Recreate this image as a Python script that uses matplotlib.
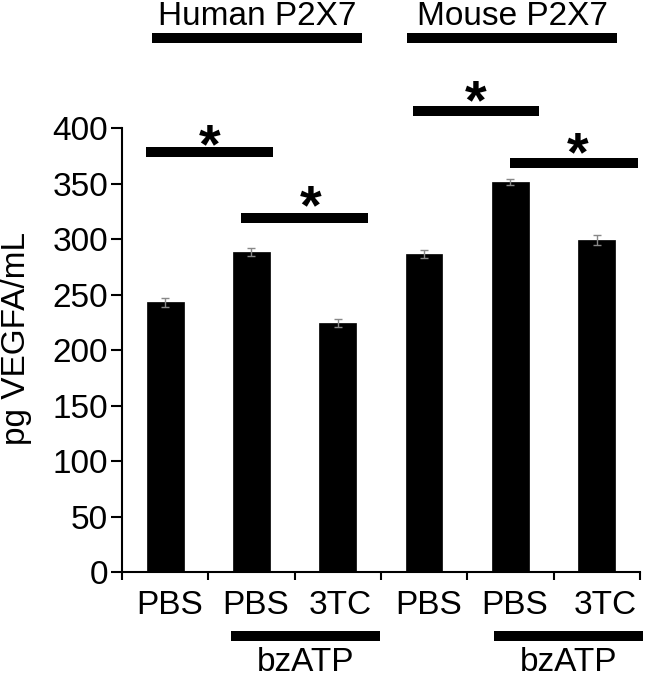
import matplotlib
matplotlib.use("Agg")
import matplotlib.pyplot as plt

plt.rcParams['font.family'] = ['Liberation Sans', 'DejaVu Sans']

categories = ["PBS", "PBS", "3TC", "PBS", "PBS", "3TC"]
values = [243, 288.5, 224.5, 287, 351.5, 299.5]
errors = [4, 3.5, 3.5, 3.5, 2.5, 4.5]
yticks = [0, 50, 100, 150, 200, 250, 300, 350, 400]
groups = ["Human P2X7", "Mouse P2X7"]
treatment = "bzATP"

FS = 24

fig = plt.figure(figsize=(6.49, 6.78), dpi=100)
ax = fig.add_axes([0.188, 0.1563, 0.798, 0.6545])

x = list(range(len(values)))
ax.bar(x, values, width=0.425, color='black', edgecolor='black', linewidth=0.5,
       yerr=errors, error_kw=dict(ecolor='#888888', elinewidth=1, capsize=3, capthick=1))

ax.set_xlim(-0.5, 5.5)
ax.set_ylim(0, 400)
ax.set_yticks(yticks)
ax.set_yticklabels([str(v) for v in yticks], fontsize=FS)
label_shift = [0.05, 0.05, 0.03, 0.05, 0.05, 0.1]
ax.set_xticks([xi + d for xi, d in zip(x, label_shift)])
ax.set_xticklabels(categories, fontsize=FS)
ax.tick_params(axis='x', which='major', length=0, pad=13)
ax.set_xticks([i - 0.5 for i in range(len(values) + 1)], minor=True)
ax.tick_params(axis='x', which='minor', length=6, width=1.5, direction='out')
ax.tick_params(axis='y', length=8, width=1.5, direction='out', pad=2)
for s in ['top', 'right']:
    ax.spines[s].set_visible(False)
for s in ['left', 'bottom']:
    ax.spines[s].set_linewidth(1.5)

ax.set_ylabel("pg VEGFA/mL", fontsize=FS)
ax.yaxis.set_label_coords(-0.174, 0.526)

lw = 7.2
def hline(x0, x1, y):
    ax.plot([x0, x1], [y, y], color='black', lw=lw, solid_capstyle='butt', clip_on=False)

# group headers
hline(-0.152, 2.28, 481.5)
hline(2.80, 5.236, 481.5)
ax.text((-0.152 + 2.28) / 2, 493.2, groups[0], ha='center', va='baseline', fontsize=FS, clip_on=False)
ax.text((2.80 + 5.236) / 2, 493.2, groups[1], ha='center', va='baseline', fontsize=FS, clip_on=False)

# significance bars: (x start, x end, bar y, star x, star center y)
sig = [(-0.22, 1.25, 378.6, 0.52, 398.5),
       (0.88, 2.35, 319, 1.69, 343.5),
       (2.87, 4.33, 416, 3.60, 438),
       (4.00, 5.48, 368.4, 4.78, 391)]
for x0, x1, y, xs, ys in sig:
    hline(x0, x1, y)
    ax.text(xs, ys - 29, "*", ha='center', va='baseline', fontsize=40, fontweight='bold', clip_on=False)

# bzATP bars
hline(0.76, 2.49, -58.0)
hline(3.81, 5.54, -58.0)
ax.text((0.76 + 2.49) / 2, -89.5, treatment, ha='center', va='baseline', fontsize=FS, clip_on=False)
ax.text((3.81 + 5.54) / 2, -89.5, treatment, ha='center', va='baseline', fontsize=FS, clip_on=False)

fig.savefig("out.png", dpi=100)
